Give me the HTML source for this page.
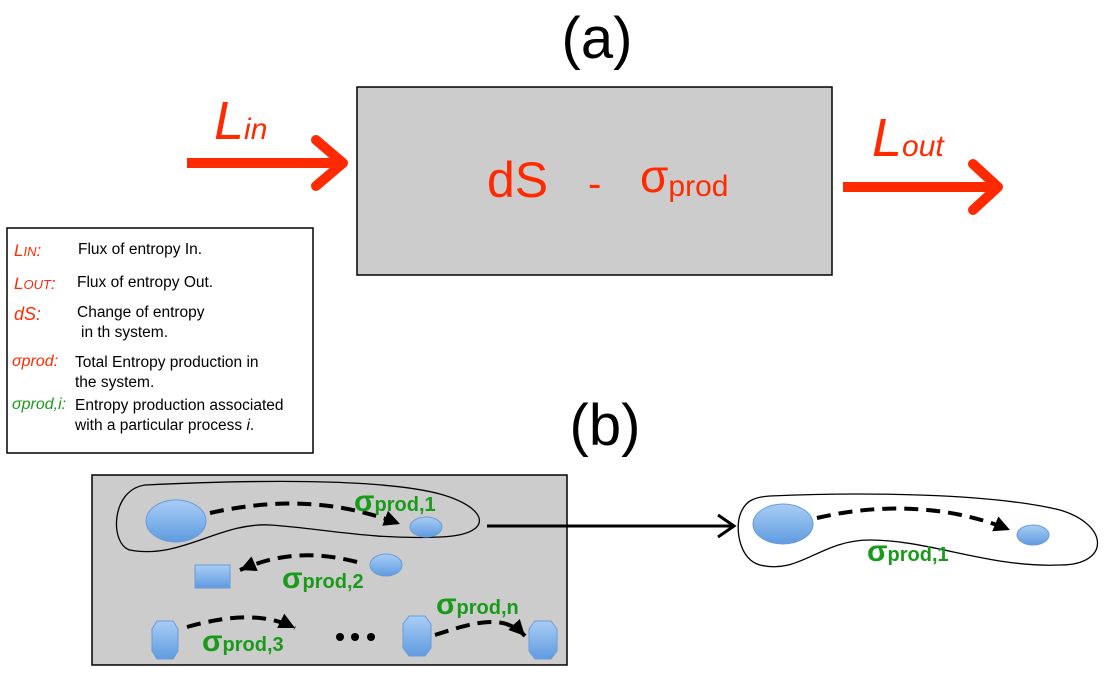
<!DOCTYPE html>
<html><head><meta charset="utf-8"><style>
html,body{margin:0;padding:0;background:#fff;}
svg{display:block;}
text{font-family:"Liberation Sans",sans-serif;}
</style></head><body>
<svg width="1107" height="677" viewBox="0 0 1107 677" xmlns="http://www.w3.org/2000/svg">
<defs>
<linearGradient id="bl" x1="0" y1="0" x2="0" y2="1"><stop offset="0" stop-color="#a9cdf5"/><stop offset="1" stop-color="#5f9be0"/></linearGradient>
<marker id="ah2" markerWidth="18" markerHeight="16" refX="16" refY="8" orient="auto" markerUnits="userSpaceOnUse"><path d="M0,0 L16,8 L0,16 z" fill="#000"/></marker>
</defs>
<text x="597" y="58" font-size="58" text-anchor="middle">(a)</text>
<rect x="357" y="87" width="475" height="188" fill="#cccccc" stroke="#000" stroke-width="1.5"/>
<text x="487" y="197" font-size="50" fill="#ff2a00">dS</text>
<text x="588" y="197" font-size="40" fill="#ff2a00">-</text>
<text x="640" y="192" font-size="46" fill="#ff2a00">σ<tspan font-size="30" dy="4">prod</tspan></text>
<text x="214" y="139" font-size="54" font-style="italic" fill="#ff2a00">L<tspan font-size="30">in</tspan></text>
<text x="872" y="156" font-size="54" font-style="italic" fill="#ff2a00">L<tspan font-size="30">out</tspan></text>
<line x1="187" y1="163" x2="340" y2="163" stroke="#ff2a00" stroke-width="10"/>
<polyline points="316,140 343,163 316,186" fill="none" stroke="#ff2a00" stroke-width="10" stroke-linecap="round" stroke-linejoin="round"/>
<line x1="843" y1="187" x2="995" y2="187" stroke="#ff2a00" stroke-width="10"/>
<polyline points="973,164 998,187 973,210" fill="none" stroke="#ff2a00" stroke-width="10" stroke-linecap="round" stroke-linejoin="round"/>

<rect x="7" y="228" width="306" height="225" fill="#fff" stroke="#000" stroke-width="1.5"/>
<g font-size="15.5">
<text x="14" y="256" fill="#ff2a00" font-style="italic" font-size="17">L<tspan font-size="13">IN</tspan>:</text>
<text x="78" y="254">Flux of entropy In.</text>
<text x="14" y="289" fill="#ff2a00" font-style="italic" font-size="17">L<tspan font-size="13">OUT</tspan>:</text>
<text x="77" y="287">Flux of entropy Out.</text>
<text x="14" y="320" fill="#ff2a00" font-style="italic" font-size="18">dS:</text>
<text x="77" y="317">Change of entropy</text>
<text x="81" y="337">in th system.</text>
<text x="12" y="366" fill="#ff2a00" font-style="italic" font-size="16">σprod:</text>
<text x="75" y="367">Total Entropy production in</text>
<text x="75" y="387">the system.</text>
<text x="12" y="409" fill="#1a9a1a" font-style="italic" font-size="16">σprod,i:</text>
<text x="75" y="410">Entropy production associated</text>
<text x="75" y="430">with a particular process <tspan font-style="italic">i</tspan>.</text>
</g>

<text x="605" y="445" font-size="58" text-anchor="middle">(b)</text>
<rect x="92" y="475" width="475" height="190" fill="#cccccc" stroke="#000" stroke-width="1.5"/>
<path d="M145,485 C250,480 380,478 440,494 C490,508 495,535 440,537 C370,540 320,528 270,525 C220,522 180,560 130,550 C110,545 110,490 145,485 z" fill="none" stroke="#000" stroke-width="1.3"/>
<ellipse cx="176" cy="521" rx="30" ry="21" fill="url(#bl)" stroke="#6a9bd6"/>
<ellipse cx="426" cy="527" rx="16" ry="10" fill="url(#bl)" stroke="#6a9bd6"/>
<path d="M210,513 C290,495 350,505 400,524" fill="none" stroke="#000" stroke-width="4" stroke-dasharray="14,8" marker-end="url(#ah2)"/>
<text x="354" y="511" font-size="30" font-weight="bold" fill="#1a9a1a">σ<tspan font-size="20">prod,1</tspan></text>
<ellipse cx="386" cy="565" rx="16" ry="11" fill="url(#bl)" stroke="#6a9bd6"/>
<rect x="195" y="565" width="35" height="23" fill="url(#bl)" stroke="#6a9bd6"/>
<path d="M357,562 C310,550 275,555 240,570" fill="none" stroke="#000" stroke-width="4" stroke-dasharray="14,8" marker-end="url(#ah2)"/>
<text x="282" y="588" font-size="30" font-weight="bold" fill="#1a9a1a">σ<tspan font-size="20">prod,2</tspan></text>
<polygon points="157,621 173,621 178,629 178,651 173,659 157,659 152,651 152,629" fill="url(#bl)" stroke="#6a9bd6"/>
<polygon points="409,616 425,616 431,624 431,648 425,656 409,656 403,648 403,624" fill="url(#bl)" stroke="#6a9bd6"/>
<polygon points="535,621 551,621 557,629 557,651 551,659 535,659 529,651 529,629" fill="url(#bl)" stroke="#6a9bd6"/>
<path d="M187,627 C230,615 265,613 295,628" fill="none" stroke="#000" stroke-width="4" stroke-dasharray="14,8" marker-end="url(#ah2)"/>
<text x="202" y="651" font-size="30" font-weight="bold" fill="#1a9a1a">σ<tspan font-size="20">prod,3</tspan></text>
<path d="M435,635 C480,620 505,615 525,636" fill="none" stroke="#000" stroke-width="4" stroke-dasharray="14,8" marker-end="url(#ah2)"/>
<text x="436" y="614" font-size="30" font-weight="bold" fill="#1a9a1a">σ<tspan font-size="20">prod,n</tspan></text>
<circle cx="340" cy="637" r="4" fill="#000"/><circle cx="355" cy="637" r="4" fill="#000"/><circle cx="371" cy="637" r="4" fill="#000"/>

<line x1="487" y1="526" x2="733" y2="526" stroke="#000" stroke-width="3"/>
<polyline points="718,515 734,526 718,537" fill="none" stroke="#000" stroke-width="3"/>
<path d="M770,496 C860,492 990,493 1060,510 C1110,525 1110,565 1060,565 C990,568 930,540 870,540 C820,540 800,575 760,565 C740,560 735,530 740,515 C745,500 755,497 770,496 z" fill="#fff" stroke="#000" stroke-width="1.3"/>
<ellipse cx="783" cy="524" rx="30" ry="20" fill="url(#bl)" stroke="#6a9bd6"/>
<ellipse cx="1033" cy="535" rx="16" ry="10" fill="url(#bl)" stroke="#6a9bd6"/>
<path d="M817,518 C880,503 950,505 1010,530" fill="none" stroke="#000" stroke-width="4" stroke-dasharray="14,8" marker-end="url(#ah2)"/>
<text x="867" y="561" font-size="30" font-weight="bold" fill="#1a9a1a">σ<tspan font-size="20">prod,1</tspan></text>
</svg>
</body></html>
